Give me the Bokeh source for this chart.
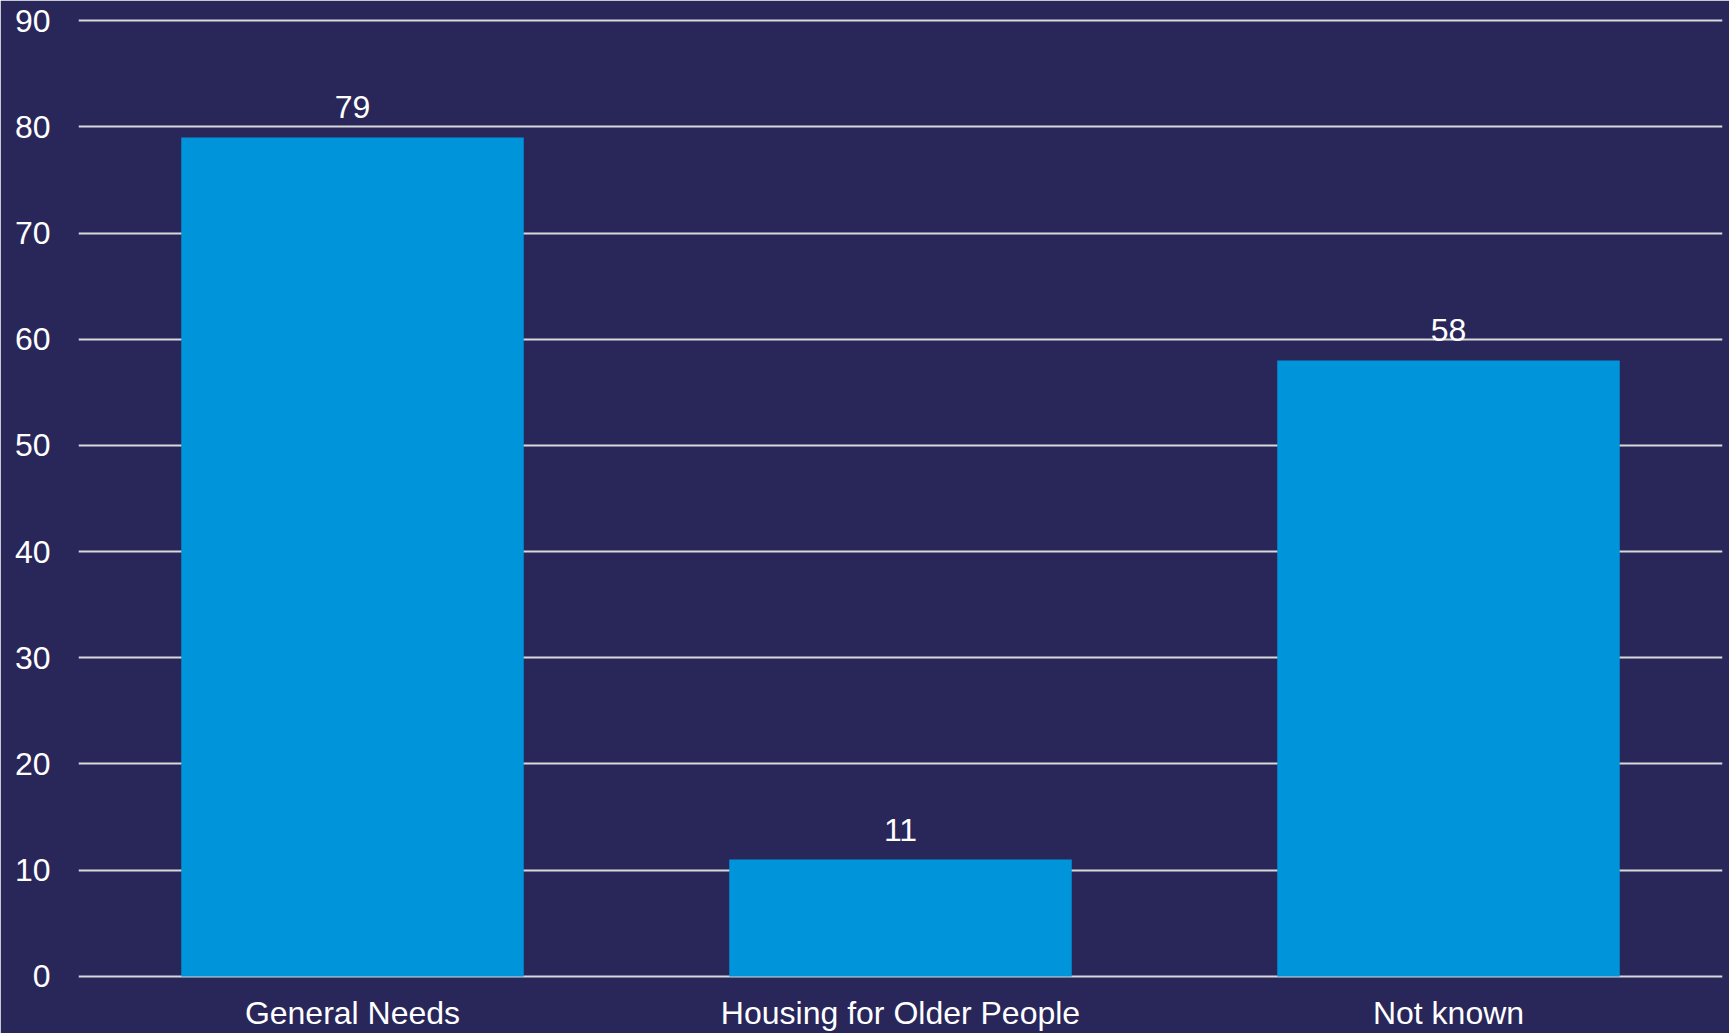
from bokeh.plotting import figure
from bokeh.models import ColumnDataSource, FixedTicker, Range1d
from bokeh.core.properties import value
from bokeh.embed import file_html
from bokeh.resources import INLINE

categories = ["General Needs", "Housing for Older People", "Not known"]
counts = [79, 11, 58]
y_ticks = [0, 10, 20, 30, 40, 50, 60, 70, 80, 90]

BG = "#29265A"
BAR = "#0095DA"
FONT = "Liberation Sans"

src = ColumnDataSource(dict(cat=categories, val=counts, lab=[str(v) for v in counts]))

p = figure(x_range=categories, y_range=Range1d(-0.2, 90.2), width=1729, height=1033,
           output_backend="svg", toolbar_location=None,
           min_border_left=78, min_border_right=7, min_border_top=18, min_border_bottom=55)
p.background_fill_color = BG
p.border_fill_color = BG
p.outline_line_color = BG
p.outline_line_width = 1
p.x_range.range_padding = 0

p.vbar(x="cat", top="val", width=0.625, source=src, color=BAR, line_color=None)
p.text(x="cat", y="val", text="lab", source=src, text_color="white",
       text_font=value(FONT), text_font_size="32px", text_align="center",
       text_baseline="middle", y_offset=-30)

p.yaxis.ticker = FixedTicker(ticks=y_ticks)
p.ygrid.ticker = FixedTicker(ticks=y_ticks)
p.xgrid.grid_line_color = None
p.ygrid.grid_line_color = "#D9D9D9"
p.ygrid.grid_line_width = 2
p.ygrid.level = "underlay"

for ax in (p.xaxis, p.yaxis):
    ax.axis_line_color = None
    ax.major_tick_line_color = None
    ax.minor_tick_line_color = None
    ax.major_tick_out = 0
    ax.major_tick_in = 0
    ax.major_label_text_color = "white"
    ax.major_label_text_font = FONT
    ax.major_label_text_font_size = "32px"

p.yaxis.major_label_standoff = 28
p.xaxis.major_label_standoff = 16

html = file_html(p, INLINE)
html = html.replace("<body>", '<body style="background-color:#29265A">', 1)
open("out.html", "w").write(html)
